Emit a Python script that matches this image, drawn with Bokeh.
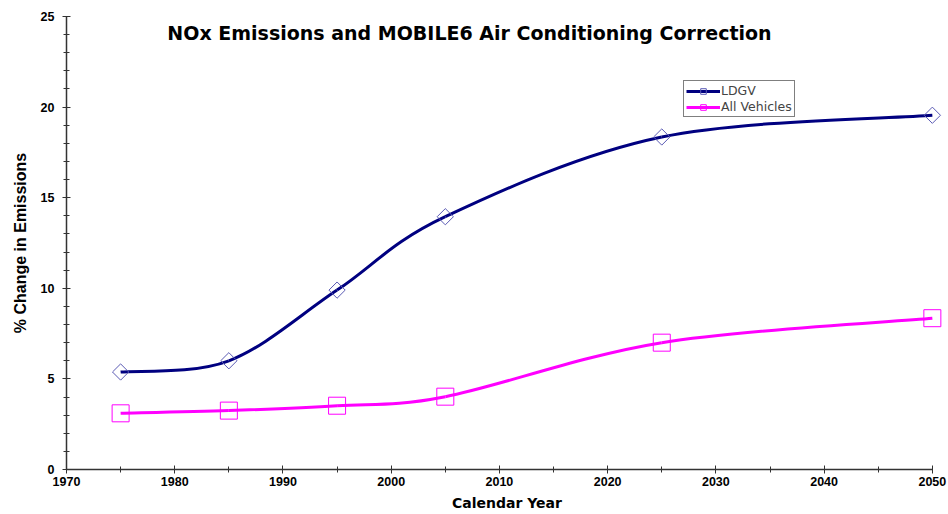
from bokeh.plotting import figure
from bokeh.models import (Range1d, Label, Legend, LegendItem, FixedTicker, ColumnDataSource)
from bokeh.embed import file_html
from bokeh.resources import INLINE

years = [1975, 1985, 1995, 2005, 2025, 2050]
ldgv = [5.38, 6.0, 9.9, 13.95, 18.35, 19.55]
all_veh = [3.1, 3.25, 3.52, 4.02, 7.0, 8.35]

x_ticks = [1970, 1980, 1990, 2000, 2010, 2020, 2030, 2040, 2050]
y_ticks = [0, 5, 10, 15, 20, 25]

TITLE = "NOx Emissions and MOBILE6 Air Conditioning Correction"
FONT = "Liberation Sans"
WIDE = "DejaVu Sans"

p = figure(width=948, height=514, output_backend="svg", toolbar_location=None,
           x_range=Range1d(1970, 2051.4), y_range=Range1d(0, 25),
           min_border_left=66, min_border_right=1, min_border_top=16, min_border_bottom=45)
p.outline_line_color = None
p.grid.visible = False
p.background_fill_color = "white"
p.border_fill_color = "white"


def smooth_segments(xs, ys):
    # Bezier segments (Catmull-Rom style) through the data points, like a smoothed line
    n = len(xs)
    px = [xs[0]] + list(xs) + [xs[-1]]
    py = [ys[0]] + list(ys) + [ys[-1]]
    d = dict(x0=[], y0=[], x1=[], y1=[], cx0=[], cy0=[], cx1=[], cy1=[])
    for i in range(n - 1):
        a, b, c, e = i, i + 1, i + 2, i + 3
        d["x0"].append(px[b]); d["y0"].append(py[b])
        d["x1"].append(px[c]); d["y1"].append(py[c])
        d["cx0"].append(px[b] + (px[c] - px[a]) / 6.0)
        d["cy0"].append(py[b] + (py[c] - py[a]) / 6.0)
        d["cx1"].append(px[c] - (px[e] - px[b]) / 6.0)
        d["cy1"].append(py[c] - (py[e] - py[b]) / 6.0)
    return ColumnDataSource(d)


navy = "#000080"
mag = "#FF00FF"
dia = "#5a5ab4"

b1 = p.bezier(x0="x0", y0="y0", x1="x1", y1="y1", cx0="cx0", cy0="cy0", cx1="cx1", cy1="cy1",
              source=smooth_segments(years, ldgv), line_color=navy, line_width=3)
b2 = p.bezier(x0="x0", y0="y0", x1="x1", y1="y1", cx0="cx0", cy0="cy0", cx1="cx1", cy1="cy1",
              source=smooth_segments(years, all_veh), line_color=mag, line_width=3)

m1 = p.scatter(years, ldgv, marker="square", size=11.5, angle=0.7854,
               fill_color=None, line_color=dia, line_width=1)
m2 = p.scatter(years, all_veh, marker="square", size=17,
               fill_color=None, line_color=mag, line_width=1)

legend = Legend(items=[LegendItem(label="LDGV", renderers=[b1, m1]),
                       LegendItem(label="All Vehicles", renderers=[b2, m2])],
                location=(617, 352), border_line_color="black", border_line_width=1,
                label_text_font=WIDE, label_text_font_size="12.5px", label_standoff=1,
                glyph_width=34, glyph_height=14, label_height=14, padding=2, spacing=1,
                margin=0, background_fill_alpha=1)
p.add_layout(legend, "center")

# axes
p.xaxis.ticker = FixedTicker(ticks=x_ticks, minor_ticks=list(range(1970, 2051, 5)))
p.xaxis.bounds = (1970, 2050)
p.yaxis.ticker = FixedTicker(ticks=y_ticks, minor_ticks=list(range(0, 26)))
for ax in (p.xaxis[0], p.yaxis[0]):
    ax.axis_line_color = "#333333"
    ax.axis_line_width = 1.5
    ax.major_tick_line_color = "#333333"
    ax.minor_tick_line_color = "#333333"
    ax.major_tick_in = 4
    ax.major_tick_out = 4
    ax.minor_tick_in = 3
    ax.minor_tick_out = 3
    ax.major_label_text_font = FONT
    ax.major_label_text_font_style = "bold"
    ax.major_label_text_font_size = "12.5px"
    ax.major_label_text_color = "black"
    ax.axis_label_text_font_style = "bold"
    ax.axis_label_text_color = "black"
p.xaxis.major_label_standoff = 3
p.yaxis.major_label_standoff = 8
p.xaxis.axis_label = "Calendar Year"
p.xaxis.axis_label_text_font = WIDE
p.xaxis.axis_label_text_font_size = "14px"
p.xaxis.axis_label_standoff = 6
p.yaxis.axis_label = "% Change in Emissions"
p.yaxis.axis_label_text_font = FONT
p.yaxis.axis_label_text_font_size = "16px"
p.yaxis.axis_label_standoff = 9

p.add_layout(Label(x=403, y=437, x_units="screen", y_units="screen", text=TITLE,
                   text_font=WIDE, text_font_style="bold", text_font_size="19px",
                   text_align="center", text_baseline="middle", text_color="black"))

open("out.html", "w").write(file_html(p, INLINE))
